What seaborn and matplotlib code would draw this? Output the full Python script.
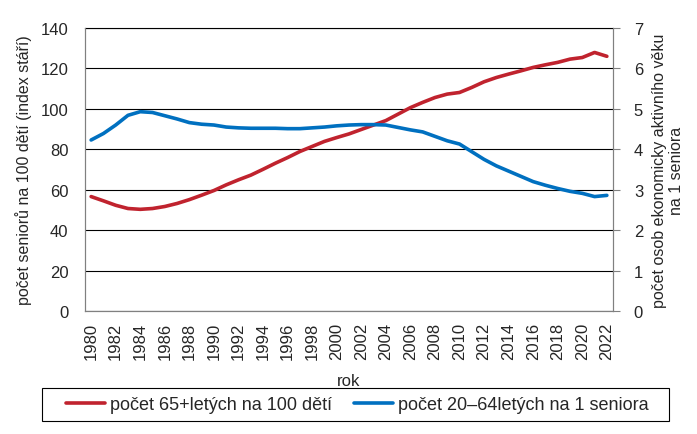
import numpy as np
import matplotlib
matplotlib.use("Agg")
import matplotlib.pyplot as plt
from matplotlib.patches import Rectangle
import seaborn as sns
import pandas as pd

sns.set_style("white")
plt.rcParams['font.family'] = ['Liberation Sans', 'DejaVu Sans']

years = list(range(1980, 2023))

# index stari (pocet 65+letych na 100 deti)
index_stari = [56.6, 54.5, 52.3, 50.7, 50.3, 50.7, 51.7, 53.2, 55.1, 57.3,
               59.6, 62.4, 64.9, 67.2, 70.1, 73.1, 75.9, 78.9, 81.4, 83.9,
               85.8, 87.6, 89.8, 92.0, 94.2, 97.4, 100.6, 103.2, 105.6, 107.3,
               108.1, 110.6, 113.4, 115.5, 117.2, 118.8, 120.5, 121.8, 123.0, 124.6,
               125.4, 127.9, 126.0]

# pocet 20-64letych na 1 seniora
na_seniora = [4.23, 4.39, 4.60, 4.84, 4.93, 4.91, 4.83, 4.75, 4.66, 4.62,
              4.60, 4.55, 4.53, 4.52, 4.52, 4.52, 4.51, 4.51, 4.53, 4.55,
              4.58, 4.60, 4.61, 4.61, 4.60, 4.54, 4.48, 4.43, 4.32, 4.21,
              4.13, 3.94, 3.75, 3.59, 3.46, 3.33, 3.20, 3.11, 3.03, 2.96,
              2.91, 2.83, 2.86]

df = pd.DataFrame({"rok": years, "index": index_stari, "seniora": na_seniora})

red = "#C0232E"
blue = "#0070C0"
fs = 12

fig = plt.figure(figsize=(6.97, 4.35), dpi=100)
ax = fig.add_axes([85 / 697, 1 - 312 / 435, (613 - 85) / 697, (312 - 29) / 435])
ax2 = ax.twinx()

sns.lineplot(data=df, x="rok", y="index", ax=ax, color=red, linewidth=2.6,
             label="počet 65+letých na 100 dětí", legend=False)
sns.lineplot(data=df, x="rok", y="seniora", ax=ax2, color=blue, linewidth=2.6,
             label="počet 20–64letých na 1 seniora", legend=False)

ax.set_xlim(1979.5, 2022.5)
ax.set_ylim(0, 140)
ax2.set_ylim(0, 7)
ax.set_yticks(range(0, 141, 20))
ax2.set_yticks(range(0, 8))
ax.set_xticks(years[::2])
ax.set_xticklabels([str(y) for y in years[::2]], rotation=90)

ax.grid(axis="y", color="black", linewidth=0.8)
ax.set_axisbelow(True)
for side in ["left", "bottom", "right"]:
    ax.spines[side].set_color("#808080")
    ax2.spines[side].set_color("#808080")
ax.spines["top"].set_color("black")
ax2.spines["top"].set_visible(False)

ax.tick_params(axis="y", length=0, pad=12, labelsize=fs)
ax.tick_params(axis="x", length=0, pad=8, labelsize=fs)
ax2.tick_params(axis="y", length=5, color="#808080", pad=10, labelsize=fs)

ax.set_xlabel("rok", fontsize=12, labelpad=10)
ax.set_ylabel("počet seniorů na 100 dětí (index stáří)", fontsize=11.5, labelpad=6)
ax2.set_ylabel("počet osob ekonomicky aktivního věku\nna 1 seniora", fontsize=11.5,
               labelpad=6)

# legend without its own frame, box drawn separately (wider than legend content)
h1, l1 = ax.get_legend_handles_labels()
h2, l2 = ax2.get_legend_handles_labels()
fig.legend(h1 + h2, l1 + l2, loc="center", ncol=2,
           bbox_to_anchor=(357 / 697, 1 - 405.5 / 435),
           frameon=False, fontsize=13,
           handlelength=2.2, handletextpad=0.25, borderaxespad=0,
           borderpad=0.3, columnspacing=1.2)
fig.patches.append(Rectangle((42 / 697, 1 - 422 / 435), (669 - 42) / 697, 33 / 435,
                             transform=fig.transFigure, fill=False,
                             edgecolor="black", linewidth=0.8))

fig.savefig("out.png", dpi=100)
